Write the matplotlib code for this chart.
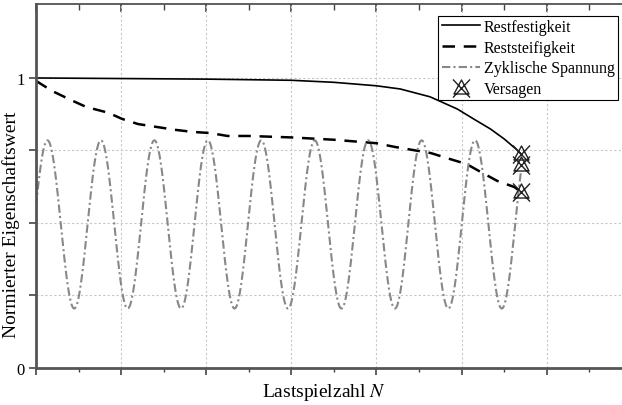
import numpy as np
import matplotlib
matplotlib.use("Agg")
import matplotlib.pyplot as plt
from matplotlib.path import Path
from matplotlib.ticker import MultipleLocator

plt.rcParams['font.family'] = ['Liberation Serif', 'DejaVu Serif']
plt.rcParams['mathtext.fontset'] = 'stix'

# ---- data ----
fest_x = [0.0, 1.0, 2.0, 3.0, 3.5, 4.0, 4.28, 4.63, 4.95, 5.14, 5.34, 5.5, 5.64, 5.70]
fest_y = [1.0, 0.998, 0.996, 0.992, 0.985, 0.973, 0.962, 0.935, 0.893, 0.859, 0.824, 0.79, 0.755, 0.738]

steif_x = [0.0, 0.19, 0.41, 0.59, 0.85, 1.01, 1.2, 1.42, 1.64, 1.84, 2.05, 2.25, 2.5, 3.0, 3.5, 4.0,
           4.22, 4.42, 4.64, 4.87, 5.06, 5.2, 5.42, 5.62, 5.70]
steif_y = [0.99, 0.955, 0.924, 0.90, 0.88, 0.859, 0.841, 0.831, 0.821, 0.814, 0.81, 0.80, 0.80, 0.795,
           0.787, 0.775, 0.762, 0.752, 0.741, 0.72, 0.703, 0.68, 0.645, 0.624, 0.607]

# cyclic stress: sinusoid parameters
sp_mean = 0.495
sp_amp = 0.29
sp_period = 0.628
sp_first_peak = 0.135
sp_end = 5.70

fail_x = [5.70, 5.70, 5.70]
fail_y = [0.738, 0.70, 0.607]

legend_labels = ['Restfestigkeit', 'Reststeifigkeit', 'Zyklische Spannung', 'Versagen']

# ---- figure ----
fig = plt.figure(figsize=(6.22, 4.06), dpi=100)
ax = fig.add_axes([36/622, 1-369/406, 1.002-36/622, (369-5)/406])

sx = np.linspace(0, sp_end, 800)
sy = sp_mean + sp_amp * np.cos(2*np.pi*(sx - sp_first_peak)/sp_period)

l1, = ax.plot(fest_x, fest_y, color='black', lw=1.2, label=legend_labels[0])
l2, = ax.plot(steif_x, steif_y, color='black', lw=1.8, dashes=(5, 3.5), label=legend_labels[1])
l3, = ax.plot(sx, sy, color='#888888', lw=1.5, dashes=(4, 1.5, 1, 1.5), label=legend_labels[2])

verts = [(0, 0.85), (-0.75, -0.55), (0.75, -0.55), (0, 0.85),
         (-0.85, 0.9), (0.85, -0.9), (-0.85, -0.9), (0.85, 0.9)]
codes = [Path.MOVETO, Path.LINETO, Path.LINETO, Path.CLOSEPOLY,
         Path.MOVETO, Path.LINETO, Path.MOVETO, Path.LINETO]
mk = Path(verts, codes)
l4, = ax.plot(fail_x, fail_y, linestyle='none', marker=mk, markersize=13,
              markerfacecolor='none', markeredgecolor='#222222', markeredgewidth=1.0,
              label=legend_labels[3])

ax.set_xlim(0, 6.9)
ax.set_ylim(0, 1.255)
ax.xaxis.set_major_locator(MultipleLocator(1))
ax.xaxis.set_minor_locator(MultipleLocator(0.5))
ax.set_yticks([0, 0.25, 0.5, 0.75, 1.0])
ax.set_yticklabels(['0', '', '', '', '1'])
ax.set_xticklabels([])
ax.tick_params(axis='x', which='major', direction='out', length=5, width=1.2, color='#444444')
ax.tick_params(axis='x', which='minor', direction='out', length=3, width=1.0, color='#444444')
ax.tick_params(axis='y', which='major', direction='out', length=5, width=1.2, color='#444444',
               labelsize=12, pad=3)
ax.grid(True, which='major', color='#c8c8c8', lw=0.8, linestyle=(0, (2, 2)))
ax.set_axisbelow(True)

for s in ['left', 'bottom']:
    ax.spines[s].set_linewidth(2.0)
    ax.spines[s].set_color('#555555')
ax.spines['top'].set_visible(False)
ax.spines['right'].set_visible(False)

sec = ax.secondary_xaxis('top')
sec.xaxis.set_major_locator(MultipleLocator(1))
sec.xaxis.set_minor_locator(MultipleLocator(0.5))
sec.tick_params(axis='x', which='major', direction='in', length=6, width=1.2, color='#444444',
                labeltop=False)
sec.tick_params(axis='x', which='minor', direction='in', length=4, width=1.0, color='#444444')
sec.spines['top'].set_linewidth(1.2)
sec.spines['top'].set_color('#444444')

ax.set_ylabel('Normierter Eigenschaftswert', fontsize=14)
ax.yaxis.set_label_coords(-0.028, 0.395)
ax.set_xlabel('Lastspielzahl $N$', fontsize=14)
ax.xaxis.set_label_coords(0.49, -0.036)

leg = ax.legend(handles=[l1, l2, l3, l4], loc='upper right', bbox_to_anchor=(0.991, 0.968),
                borderaxespad=0, fontsize=11.5, fancybox=False, framealpha=1, edgecolor='black',
                handlelength=2.4, handletextpad=0.25, labelspacing=0.3, borderpad=0.2)
leg.get_frame().set_linewidth(0.8)

fig.savefig('out.png', dpi=100)
